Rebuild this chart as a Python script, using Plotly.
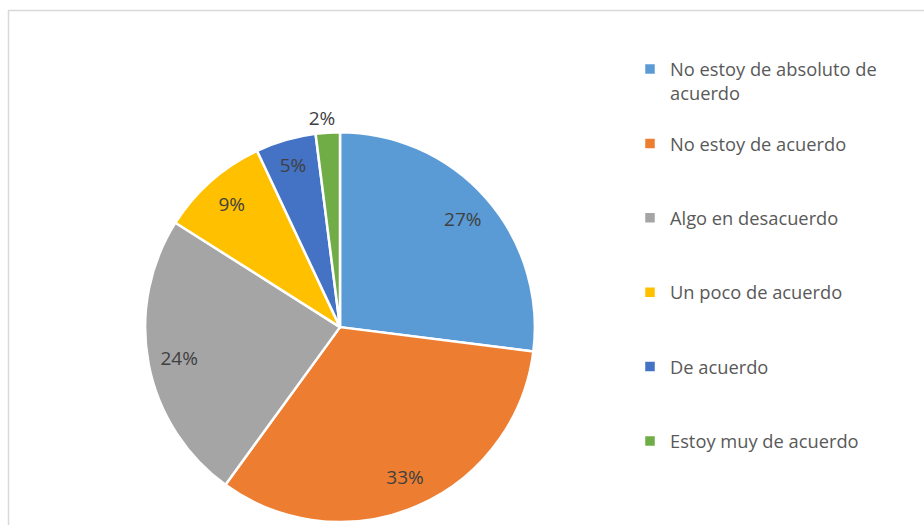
import plotly.graph_objects as go

# Survey responses (share of respondents, %)
categories = [
    "No estoy de absoluto de<br>acuerdo",
    "No estoy de acuerdo",
    "Algo en desacuerdo",
    "Un poco de acuerdo",
    "De acuerdo",
    "Estoy muy de acuerdo",
]
values = [27, 33, 24, 9, 5, 2]
colors = ["#5B9BD5", "#ED7D31", "#A5A5A5", "#FFC000", "#4472C4", "#70AD47"]

W, H = 924, 525
FONT = "Open Sans"
LABEL_FONT = dict(family=FONT, size=19, color="#404040")

# legend entries padded to equal height (three lines each)
legend_labels = [categories[0] + "<br> "] + [c + "<br> <br> " for c in categories[1:]]


def px_domain(x0, x1, y0, y1):
    return dict(x=[x0 / W, x1 / W], y=[y0 / H, y1 / H])


pie_domain = px_domain(144, 536, 0, 392)
small_label_domain = px_domain(158, 550, 2, 394)
transparent = ["rgba(0,0,0,0)"] * len(values)

fig = go.Figure()

# main pie
fig.add_trace(go.Pie(
    labels=legend_labels,
    values=values,
    sort=False,
    direction="clockwise",
    rotation=0,
    marker=dict(colors=colors, line=dict(color="white", width=2.5)),
    textinfo="none",
    domain=pie_domain,
    showlegend=True,
    hoverinfo="label+percent",
))

# transparent ring carrying the inside labels near the rim
fig.add_trace(go.Pie(
    labels=legend_labels,
    values=values,
    sort=False,
    direction="clockwise",
    rotation=0,
    hole=0.68,
    marker=dict(colors=transparent, line=dict(width=0)),
    texttemplate="%{value}%",
    textposition=["inside"] * 5 + ["none"],
    insidetextorientation="horizontal",
    insidetextfont=LABEL_FONT,
    domain=pie_domain,
    showlegend=False,
    hoverinfo="skip",
))

# transparent copy carrying the label of the smallest slice outside the rim
fig.add_trace(go.Pie(
    labels=legend_labels,
    values=values,
    sort=False,
    direction="clockwise",
    rotation=0,
    marker=dict(colors=transparent, line=dict(width=0)),
    texttemplate="%{value}%",
    textposition=["none"] * 5 + ["outside"],
    outsidetextfont=LABEL_FONT,
    domain=small_label_domain,
    showlegend=False,
    hoverinfo="skip",
))

fig.update_layout(
    width=W,
    height=H,
    margin=dict(l=0, r=0, t=0, b=0),
    paper_bgcolor="white",
    plot_bgcolor="white",
    font=dict(family=FONT, size=18.3, color="#595959"),
    uniformtext=dict(minsize=19, mode="show"),
    legend=dict(
        x=630 / W,
        y=1 - 51 / H,
        xanchor="left",
        yanchor="top",
        valign="top",
        itemwidth=30,
        font=dict(family=FONT, size=18.3, color="#595959"),
        bgcolor="rgba(0,0,0,0)",
    ),
    shapes=[
        dict(
            type="rect", xref="paper", yref="paper",
            x0=8.5 / W, x1=1.05, y0=-0.05, y1=1 - 10.5 / H,
            line=dict(color="#D9D9D9", width=1.5),
            fillcolor="rgba(0,0,0,0)", layer="below",
        )
    ],
)

fig.write_html("out.html")
